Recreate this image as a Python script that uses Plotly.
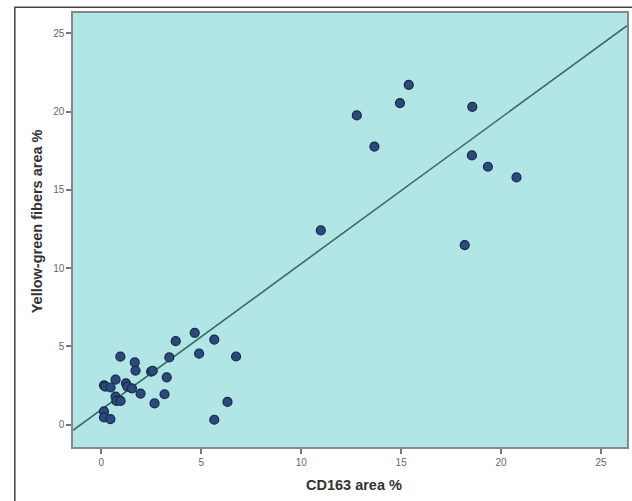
import numpy as np
import plotly.graph_objects as go

cd163_area = [0.95, 1.67, 1.71, 2.49, 2.57, 3.40, 3.72, 4.67, 5.65, 4.89, 6.74, 3.27, 0.71,
              0.13, 0.20, 0.46, 1.23, 1.30, 1.53, 1.96, 3.16, 0.71, 0.75, 0.96, 2.66, 6.31,
              0.13, 0.13, 0.45, 5.65,
              10.98, 12.78, 13.66, 14.94, 15.38, 18.56, 18.54, 19.34, 20.77, 18.18]
yg_fibers_area = [4.35, 3.98, 3.46, 3.39, 3.45, 4.30, 5.34, 5.87, 5.44, 4.54, 4.36, 3.03, 2.88,
                  2.52, 2.44, 2.38, 2.65, 2.44, 2.33, 1.99, 1.95, 1.80, 1.52, 1.52, 1.36, 1.46,
                  0.85, 0.47, 0.36, 0.32,
                  12.41, 19.76, 17.77, 20.55, 21.71, 20.31, 17.20, 16.48, 15.80, 11.48]
tick_vals = [0, 5, 10, 15, 20, 25]
axis_range = [-1.42, 26.3]

x = np.array(cd163_area)
y = np.array(yg_fibers_area)
slope, intercept = np.polyfit(x, y, 1)
line_x = np.array(axis_range)
line_y = intercept + slope * line_x

fig = go.Figure()
fig.add_trace(go.Scatter(x=line_x, y=line_y, mode="lines",
                         line=dict(color="#3b6b66", width=1.6), showlegend=False,
                         hoverinfo="skip"))
fig.add_trace(go.Scatter(x=cd163_area, y=yg_fibers_area, mode="markers",
                         marker=dict(size=9, color="#2b4a7a",
                                     line=dict(color="#16294a", width=1.2)),
                         showlegend=False))

axis_common = dict(range=axis_range, tickvals=tick_vals, ticks="outside", ticklen=5,
                   tickcolor="#777", tickwidth=1.5, showgrid=False, zeroline=False,
                   showline=True, linecolor="#888", linewidth=1.5, mirror=True,
                   tickfont=dict(family="Liberation Sans", size=10, color="#666"))
fig.update_xaxes(**axis_common)
fig.update_yaxes(**axis_common)

fig.update_layout(
    width=632, height=501,
    margin=dict(l=73, r=3, t=13, b=54),
    paper_bgcolor="white", plot_bgcolor="#b2e5e6",
    annotations=[
        dict(text="<b>CD163 area %</b>", xref="paper", yref="paper", x=0.507, y=-0.087,
             xanchor="center", yanchor="middle", showarrow=False,
             font=dict(family="Liberation Sans", size=14.5, color="#333")),
        dict(text="<b>Yellow-green fibers area %</b>", xref="paper", yref="paper",
             x=-0.065, y=0.52, xanchor="center", yanchor="middle", textangle=-90,
             showarrow=False, font=dict(family="Liberation Sans", size=14.5, color="#333")),
    ],
    shapes=[dict(type="rect", xref="paper", yref="paper", x0=-0.105, x1=1.05,
                 y0=-0.3, y1=1.013, line=dict(color="#444", width=1.5),
                 fillcolor="rgba(0,0,0,0)", layer="below")],
)
fig.write_html("out.html", config={"displayModeBar": False},
               post_script="document.body.style.margin='0';document.body.style.overflow='hidden';")
